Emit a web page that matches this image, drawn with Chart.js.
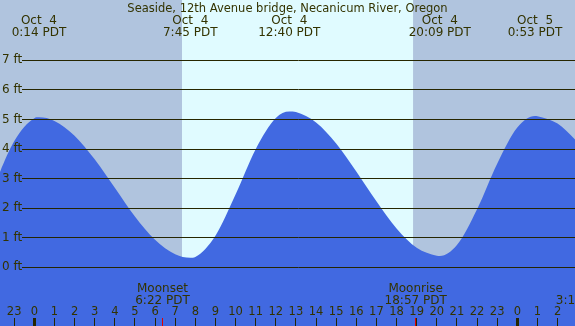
<!DOCTYPE html>
<html>
<head>
<meta charset="utf-8">
<title>Seaside tide chart</title>
<script src="https://cdn.jsdelivr.net/npm/chart.js"></script>
<style>
  html, body { margin: 0; padding: 0; background: #b0c4de; }
  canvas { display: block; }
</style>
</head>
<body>
<canvas id="tideChart" width="575" height="326"></canvas>
<script>
/******************* DATA (hours counted from Oct 4 0:00 PDT) ******************* */
var tideHours = [-2, -1, 0, 0.23, 1, 2, 3, 4, 5, 6, 7, 7.75, 8, 9, 10, 11, 12, 12.67, 13, 14, 15, 16, 17, 18, 19, 20, 20.15, 21, 22, 23, 24, 24.88, 25, 26, 27];
var tideFeet  = [2.76, 4.26, 5.04, 5.07, 4.95, 4.45, 3.65, 2.69, 1.72, 0.93, 0.44, 0.32, 0.35, 1.07, 2.46, 3.99, 5.05, 5.27, 5.25, 4.90, 4.19, 3.24, 2.23, 1.31, 0.66, 0.39, 0.38, 0.75, 1.96, 3.50, 4.73, 5.12, 5.11, 4.86, 4.24];

var hourTicks = [-1, 0, 1, 2, 3, 4, 5, 6, 7, 8, 9, 10, 11, 12, 13, 14, 15, 16, 17, 18, 19, 20, 21, 22, 23, 24, 25, 26];
var feetTicks = [0, 1, 2, 3, 4, 5, 6, 7];

// sunrise / sunset -> light band
var sunHours = [7.34, 18.82];

// high / low tide labels along the top
var tideEventHours = [0.23, 7.75, 12.67, 20.15, 24.88];
var tideEventDays  = ["Oct  4", "Oct  4", "Oct  4", "Oct  4", "Oct  5"];
var tideEventTimes = ["0:14 PDT", "7:45 PDT", "12:40 PDT", "20:09 PDT", "0:53 PDT"];

// moon events along the bottom
var moonHours = [6.37, 18.95, 27.27];
var moonNames = ["Moonset", "Moonrise", ""];
var moonTimes = ["6:22 PDT", "18:57 PDT", "3:16 PDT"];

var chartTitle = "Seaside, 12th Avenue bridge, Necanicum River, Oregon";

/******************* STYLE ******************* */
var ink = "#333300";
var lineInk = "#262600";
var nightColor = "#b0c4de";
var dayColor = "#e0fbff";
var waterColor = "#4169e1";
var xMin = -1.704, xMax = 26.867;
var yMin = -1.985, yMax = 9.039;

/******************* PLUGIN: day band + text ******************* */
var tideDecor = {
    id: "tideDecor",
    beforeDraw: function (chart) {
        var ctx = chart.ctx, area = chart.chartArea, x = chart.scales.x;
        ctx.save();
        ctx.fillStyle = nightColor;
        ctx.fillRect(0, 0, chart.width, chart.height);
        var x0 = x.getPixelForValue(sunHours[0]);
        var x1 = x.getPixelForValue(sunHours[1]);
        ctx.fillStyle = dayColor;
        ctx.fillRect(x0, area.top, x1 - x0, area.bottom - area.top);
        ctx.restore();
    },
    afterDraw: function (chart) {
        var ctx = chart.ctx, x = chart.scales.x;
        ctx.save();
        ctx.fillStyle = ink;
        ctx.textAlign = "center";
        ctx.textBaseline = "alphabetic";
        ctx.font = '11.5px "DejaVu Sans"';
        ctx.fillText(chartTitle, chart.width / 2, 12);
        ctx.font = '12px "DejaVu Sans"';
        for (var i = 0; i < tideEventHours.length; i++) {
            var px = x.getPixelForValue(tideEventHours[i]);
            ctx.fillText(tideEventDays[i], px, 24);
            ctx.fillText(tideEventTimes[i], px, 36);
        }
        for (var j = 0; j < moonHours.length; j++) {
            var mx = x.getPixelForValue(moonHours[j]);
            ctx.fillText(moonNames[j], mx, 292);
            ctx.fillText(moonTimes[j], mx, 304);
        }
        ctx.restore();
    }
};

/******************* CHART ******************* */
var points = tideHours.map(function (h, i) { return { x: h, y: tideFeet[i] }; });

var ctx1 = document.getElementById("tideChart").getContext("2d");
var tideChart = new Chart(ctx1, {
    type: "line",
    data: {
        datasets: [{
            data: points,
            fill: "start",
            backgroundColor: waterColor,
            borderWidth: 0,
            pointRadius: 0,
            cubicInterpolationMode: "monotone"
        }]
    },
    options: {
        responsive: false,
        animation: false,
        layout: { padding: 0 },
        plugins: { legend: { display: false }, tooltip: { enabled: false } },
        scales: {
            x: {
                type: "linear",
                position: { y: -1.715 },
                min: xMin,
                max: xMax,
                afterFit: function (scale) {
                    scale.height = 0;
                    scale.paddingLeft = 0;
                    scale.paddingRight = 0;
                    scale.paddingTop = 0;
                    scale.paddingBottom = 0;
                },
                afterBuildTicks: function (scale) {
                    var vals = hourTicks.concat(moonHours.filter(function (m) { return m < xMax; }));
                    scale.ticks = vals.map(function (v) { return { value: v }; });
                },
                grid: {
                    drawOnChartArea: false,
                    drawTicks: true,
                    tickLength: 8,
                    z: 1,
                    tickColor: function (c) {
                        return moonHours.indexOf(c.tick.value) >= 0 ? "#e00000" : lineInk;
                    },
                    tickWidth: function (c) {
                        return (c.tick.value % 24 === 0) ? 3 : 1;
                    }
                },
                border: { display: false },
                ticks: {
                    autoSkip: false,
                    maxRotation: 0,
                    padding: -21,
                    z: 1,
                    color: ink,
                    font: { family: "DejaVu Sans", size: 11.5 },
                    callback: function (v) {
                        return Number.isInteger(v) ? String((v + 24) % 24) : "";
                    }
                }
            },
            y: {
                type: "linear",
                position: "left",
                min: yMin,
                max: yMax,
                afterFit: function (scale) {
                    scale.width = 0;
                    scale.paddingLeft = 0;
                    scale.paddingRight = 0;
                    scale.paddingTop = 0;
                    scale.paddingBottom = 0;
                },
                afterBuildTicks: function (scale) {
                    scale.ticks = feetTicks.map(function (v) { return { value: v }; });
                },
                grid: {
                    drawTicks: false,
                    color: lineInk,
                    lineWidth: 1,
                    z: 1
                },
                border: { display: false, dash: [0, 22, 2000, 0] },
                ticks: {
                    mirror: true,
                    padding: 2,
                    z: 1,
                    color: ink,
                    font: { family: "DejaVu Sans", size: 12 },
                    callback: function (v) { return v + " ft"; }
                }
            }
        }
    },
    plugins: [tideDecor]
});
</script>
</body>
</html>
